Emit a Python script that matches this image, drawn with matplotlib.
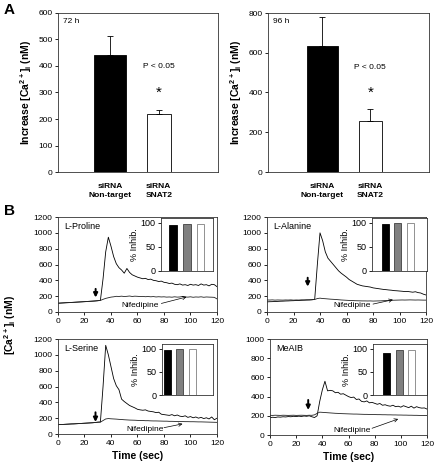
import matplotlib
matplotlib.use("Agg")
import matplotlib.pyplot as plt
import numpy as np

plt.rcParams['font.family'] = ['Liberation Sans', 'DejaVu Sans']
plt.rcParams['mathtext.fontset'] = 'custom'
plt.rcParams['mathtext.rm'] = 'Liberation Sans'
plt.rcParams['mathtext.bf'] = 'Liberation Sans:bold'
plt.rcParams['axes.linewidth'] = 0.6

# ---- panel A data ----
groups = ['siRNA\nNon-target', 'siRNA\nSNAT2']
a_titles = ['72 h', '96 h']
a_means = [[440, 220], [635, 255]]
a_errs = [[75, 15], [145, 60]]
a_ymax = [600, 800]
a_ystep = [100, 200]
a_ptext_y = [400, 528]
a_star_y = [300, 400]

# ---- panel B data ----
t = np.arange(0, 121, 2)
b_names = ['L-Proline', 'L-Alanine', 'L-Serine', 'MeAIB']
proline = [112, 114, 116, 118, 119, 121, 123, 125, 127, 129, 131, 133, 136, 138, 140, 143, 148,
           420, 760, 945, 830, 700, 610, 560, 530, 490, 550, 500, 470, 455, 440, 430, 420, 425,
           410, 415, 400, 395, 385, 390, 375, 370, 360, 365, 350, 345, 355, 340, 345, 335, 350,
           340, 345, 335, 355, 340, 345, 330, 350, 345, 320]
proline_nif = [110, 112, 114, 116, 118, 120, 122, 124, 126, 128, 130, 132, 134, 136, 139, 142, 146,
               160, 172, 180, 188, 192, 198, 196, 200, 195, 198, 202, 196, 200, 198, 195, 197, 193,
               196, 192, 195, 190, 193, 190, 192, 188, 190, 187, 192, 188, 190, 196, 190, 188, 192,
               186, 190, 188, 192, 186, 190, 188, 187, 185, 165]
alanine = [128, 130, 131, 133, 134, 136, 137, 139, 140, 142, 143, 145, 146, 148, 150, 151, 153,
           155, 160, 600, 1000, 900, 760, 680, 640, 600, 560, 520, 490, 465, 440, 410, 390, 370,
           350, 340, 330, 325, 320, 315, 305, 300, 295, 290, 285, 282, 278, 275, 270, 268, 265,
           262, 258, 260, 255, 250, 256, 245, 240, 225, 215]
alanine_nif = [152, 151, 153, 150, 152, 151, 150, 152, 151, 153, 150, 152, 151, 153, 152, 154, 153,
               155, 158, 170, 175, 170, 168, 165, 162, 160, 158, 155, 152, 150, 148, 146, 145, 143,
               142, 141, 140, 140, 139, 140, 138, 139, 140, 141, 143, 145, 146, 148, 149, 150, 151,
               152, 151, 152, 153, 152, 151, 152, 151, 150, 150]
serine = [118, 120, 121, 123, 125, 127, 128, 130, 132, 134, 136, 138, 140, 142, 145, 150, 152,
          600, 1120, 1000, 850, 700, 610, 560, 440, 410, 385, 360, 345, 330, 312, 305, 300, 305,
          290, 285, 280, 270, 275, 250, 245, 240, 235, 245, 230, 240, 225, 220, 230, 210, 220,
          205, 215, 200, 210, 195, 205, 190, 215, 180, 200]
serine_nif = [118, 120, 121, 123, 125, 127, 128, 130, 132, 134, 136, 138, 140, 142, 145, 148, 150,
              170, 190, 195, 192, 190, 188, 185, 183, 180, 178, 176, 175, 174, 172, 170, 170, 168,
              168, 166, 165, 165, 164, 163, 162, 162, 160, 160, 159, 158, 158, 157, 156, 156, 155,
              155, 154, 153, 153, 152, 151, 150, 149, 148, 147]
meaib = [180, 185, 182, 188, 186, 190, 188, 192, 190, 195, 192, 196, 193, 198, 195, 200, 190,
         182, 200, 350, 470, 560, 460, 465, 460, 440, 445, 425, 430, 415, 400, 390, 395, 370,
         375, 350, 345, 355, 335, 340, 330, 320, 328, 310, 315, 305, 300, 310, 295, 300, 290,
         305, 295, 285, 300, 280, 295, 285, 280, 282, 270]
meaib_nif = [205, 204, 206, 205, 204, 206, 205, 204, 205, 206, 204, 205, 206, 205, 204, 206, 205,
             210, 225, 238, 236, 234, 232, 230, 228, 226, 225, 223, 222, 221, 220, 219, 218, 218,
             217, 216, 215, 215, 214, 213, 213, 212, 212, 211, 211, 210, 210, 209, 209, 208, 208,
             207, 207, 206, 206, 205, 205, 204, 204, 203, 203]
b_traces = [proline, alanine, serine, meaib]
b_nif = [proline_nif, alanine_nif, serine_nif, meaib_nif]
b_ymax = [1200, 1200, 1200, 1000]
b_arrow_t = [28.4, 30.7, 28.3, 29.2]
b_arrow_y = [(292, 183), (433, 321), (274, 152), (365, 261)]
nif_text = [(62, 83), (64, 83), (66, 55), (63, 52)]
nif_arrow = [((78, 108), (97, 190)), ((80, 100), (95, 155)), ((80, 80), (94, 128)), ((78, 70), (98, 167))]

inhib = [[96, 97, 98], [97, 99, 99], [97, 99, 99], [90, 98, 98]]
inhib_colors = ['black', '#808080', 'white']
inhib_edges = ['black', '#404040', '#808080']

W, H = 437, 469
fig = plt.figure(figsize=(W / 100, H / 100), dpi=100)


def box(x0, y0, x1, y1):
    return [x0 / W, 1 - y1 / H, (x1 - x0) / W, (y1 - y0) / H]


def style(ax):
    for s in ax.spines.values():
        s.set_linewidth(0.6)
        s.set_color('#333333')
    ax.tick_params(direction='out', length=2.5, width=0.6, labelsize=6, pad=1.5)


# ---- A ----
a_boxes = [box(58, 13, 218, 172), box(268, 13, 429, 172)]
a_xlims = [(-0.06, 3.21), (-0.14, 3.23)]
for i in range(2):
    ax = fig.add_axes(a_boxes[i])
    style(ax)
    ax.bar(1, a_means[i][0], width=0.65, color='black', edgecolor='black', lw=0.6)
    ax.bar(2, a_means[i][1], width=0.48, color='white', edgecolor='black', lw=0.6)
    for k in range(2):
        ax.errorbar(k + 1, a_means[i][k], yerr=[[0], [a_errs[i][k]]], fmt='none',
                    ecolor='black', elinewidth=0.6, capsize=2.5, capthick=0.6)
    ax.set_xlim(*a_xlims[i])
    ax.set_ylim(0, a_ymax[i])
    ax.set_yticks(np.arange(0, a_ymax[i] + 1, a_ystep[i]))
    ax.set_xticks([1, 2])
    ax.set_xticklabels(groups, fontsize=6, fontweight='bold', linespacing=1.3)
    ax.tick_params(axis='x', length=0, pad=8)
    ax.text(0.03, 0.97, a_titles[i], transform=ax.transAxes, fontsize=6, va='top', ha='left')
    ax.text(2, a_ptext_y[i], 'P < 0.05', fontsize=6, ha='center', va='center')
    ax.text(2, a_star_y[i], '*', fontsize=11, ha='center', va='center')
    ax.set_ylabel(r'Increase [Ca$^{\mathbf{2+}}$]$_{\mathbf{i}}$ (nM)', fontsize=7.5,
                  fontweight='bold', labelpad=3)

# ---- B ----
b_boxes = [box(58, 217, 217, 312), box(267, 217, 426, 312),
           box(58, 339, 217, 434), box(270, 339, 427, 435)]
in_boxes = [box(161, 218, 213, 271), box(372, 218, 427, 271),
            box(162, 344, 213, 395), box(373, 344, 427, 395)]
in_xlims = [(0.1, 3.93), (-0.06, 4.34), (0.6, 4.6), (-0.08, 4.2)]
for i in range(4):
    ax = fig.add_axes(b_boxes[i])
    style(ax)
    ax.plot(t, b_traces[i], color='black', lw=0.6)
    ax.plot(t, b_nif[i], color='#222222', lw=0.6)
    ax.set_xlim(0, 120)
    ax.set_ylim(0, b_ymax[i])
    ax.set_xticks(np.arange(0, 121, 20))
    ax.set_yticks(np.arange(0, b_ymax[i] + 1, 200))
    ax.text(0.04, 0.95, b_names[i], transform=ax.transAxes, fontsize=6.5, va='top', ha='left')
    ya, yb = b_arrow_y[i]
    ax.annotate('', xy=(b_arrow_t[i], yb), xytext=(b_arrow_t[i], ya),
                arrowprops=dict(arrowstyle='-|>', color='black', lw=1.4,
                                mutation_scale=6, shrinkA=0, shrinkB=0))
    ax.text(nif_text[i][0], nif_text[i][1], 'Nifedipine', fontsize=6, ha='center', va='center')
    (xa, ya2), (xb, yb2) = nif_arrow[i]
    ax.annotate('', xy=(xb, yb2), xytext=(xa, ya2),
                arrowprops=dict(arrowstyle='->', color='black', lw=0.5,
                                mutation_scale=6, shrinkA=0, shrinkB=0))
    if i >= 2:
        ax.set_xlabel('Time (sec)', fontsize=7.5, fontweight='bold', labelpad=3)

    ins = fig.add_axes(in_boxes[i])
    style(ins)
    ins.bar([1, 2, 3], inhib[i], width=0.55, color=inhib_colors,
            edgecolor=inhib_edges, lw=0.6)
    ins.set_xlim(*in_xlims[i])
    ins.set_ylim(0, 110)
    ins.set_yticks([0, 50, 100])
    ins.set_xticks([])
    ins.tick_params(labelsize=6.5)
    ins.set_ylabel('% Inhib.', fontsize=6.5, labelpad=1)

fig.text(10 / W, 1 - 325 / H, r'[Ca$^{\mathbf{2+}}$]$_{\mathbf{i}}$ (nM)', fontsize=7.5,
         fontweight='bold', rotation=90, ha='center', va='center')
fig.text(4 / W, 1 - 10 / H, 'A', fontsize=11, fontweight='bold', va='center')
fig.text(4 / W, 1 - 211 / H, 'B', fontsize=11, fontweight='bold', va='center')

fig.savefig('out.png', dpi=100)
